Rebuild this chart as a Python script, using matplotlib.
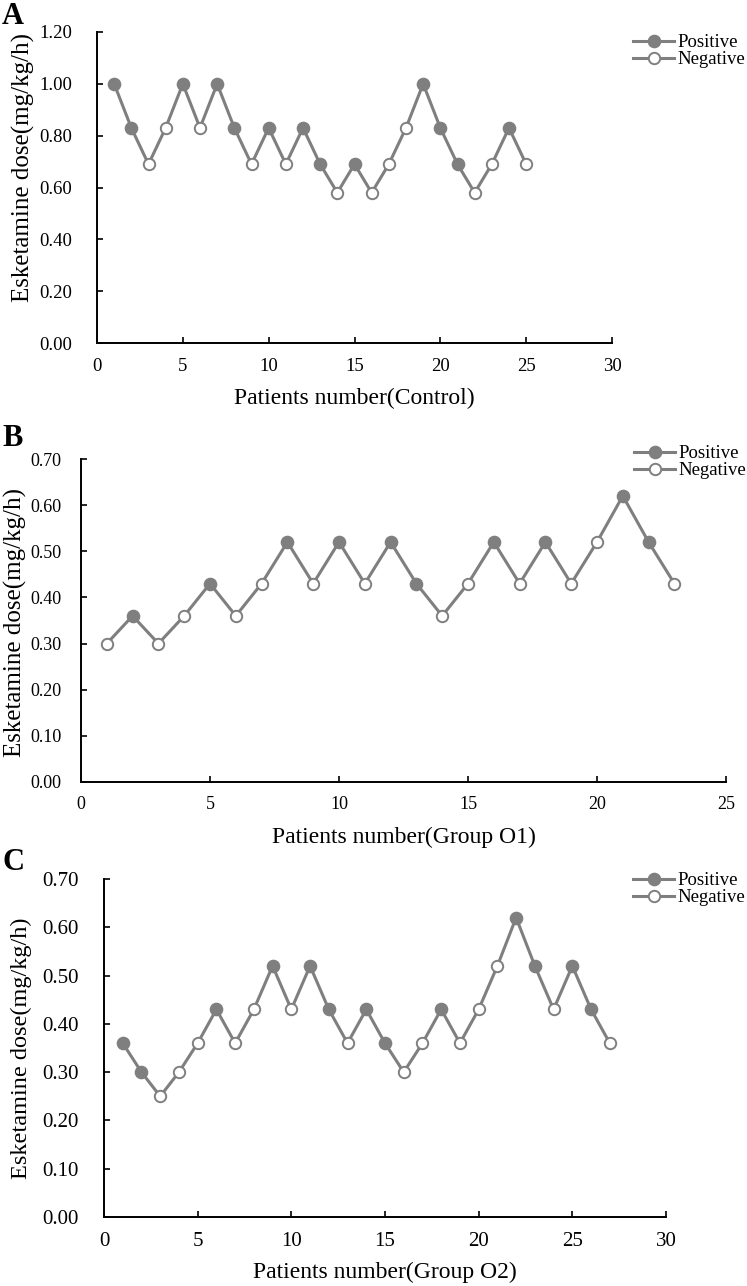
import matplotlib
matplotlib.use('Agg')
import matplotlib.pyplot as plt
from matplotlib.lines import Line2D
import numpy as np

plt.rcParams['font.family'] = ['Liberation Serif', 'DejaVu Serif']

# ------------------------------------------------------------
# Data: esketamine dose per patient, response 1 = positive, 0 = negative
# ------------------------------------------------------------
control_dose = [1.00, 0.83, 0.69, 0.83, 1.00, 0.83, 1.00, 0.83, 0.69, 0.83,
                0.69, 0.83, 0.69, 0.58, 0.69, 0.58, 0.69, 0.83, 1.00, 0.83,
                0.69, 0.58, 0.69, 0.83, 0.69]
control_resp = [1, 1, 0, 0, 1, 0, 1, 1, 0, 1,
                0, 1, 1, 0, 1, 0, 0, 0, 1, 1,
                1, 0, 0, 1, 0]

o1_dose = [0.30, 0.36, 0.30, 0.36, 0.43, 0.36, 0.43, 0.52, 0.43, 0.52,
           0.43, 0.52, 0.43, 0.36, 0.43, 0.52, 0.43, 0.52, 0.43, 0.52,
           0.62, 0.52, 0.43]
o1_resp = [0, 1, 0, 0, 1, 0, 0, 1, 0, 1,
           0, 1, 1, 0, 0, 1, 0, 1, 0, 0,
           1, 1, 0]

o2_dose = [0.36, 0.30, 0.25, 0.30, 0.36, 0.43, 0.36, 0.43, 0.52, 0.43,
           0.52, 0.43, 0.36, 0.43, 0.36, 0.30, 0.36, 0.43, 0.36, 0.43,
           0.52, 0.62, 0.52, 0.43, 0.52, 0.43, 0.36]
o2_resp = [1, 1, 0, 0, 0, 1, 0, 0, 1, 0,
           1, 1, 0, 1, 1, 0, 0, 1, 0, 0,
           0, 1, 1, 0, 1, 1, 0]

x_labels = ['Patients number(Control)', 'Patients number(Group O1)', 'Patients number(Group O2)']
y_label = 'Esketamine dose(mg/kg/h)'
legend_labels = ['Positive', 'Negative']

GRAY = '#7f7f7f'
W, H = 747, 1286
MS_FILL, MS_OPEN, LW = 8.8, 8.2, 2.2

fig = plt.figure(figsize=(W / 100, H / 100), dpi=100)


def px_rect(left, top, right, bottom):
    return [left / W, 1 - bottom / H, (right - left) / W, (bottom - top) / H]


def draw_panel(rect, dose, resp, xmax, ymax, ystep, xlabel, letter, letter_y,
               legend_xy, tick_fs, ypad, xpad, ylab_x, ylab_y, ylab_fs, xlab_y):
    left, top, right, bottom = rect
    ax = fig.add_axes(px_rect(left, top, right, bottom))
    dose = np.array(dose)
    resp = np.array(resp)
    x = np.arange(1, len(dose) + 1)

    ax.plot(x, dose, color=GRAY, linewidth=LW, zorder=2)
    pos = resp == 1
    ax.plot(x[pos], dose[pos], 'o', linestyle='none', ms=MS_FILL, mfc=GRAY, mec=GRAY, zorder=3)
    ax.plot(x[~pos], dose[~pos], 'o', linestyle='none', ms=MS_OPEN, mfc='white',
            mec=GRAY, mew=1.4, zorder=3)

    ax.set_xlim(0, xmax)
    ax.set_ylim(0, ymax)
    ax.set_xticks(np.arange(0, xmax + 1, 5))
    ax.set_yticks(np.arange(0, ymax + ystep / 2, ystep))
    ax.yaxis.set_major_formatter(matplotlib.ticker.FormatStrFormatter('%.2f'))

    for s in ['top', 'right']:
        ax.spines[s].set_visible(False)
    for s in ['left', 'bottom']:
        ax.spines[s].set_linewidth(1.4)
    ax.tick_params(axis='both', direction='in', length=4, width=1.2, labelsize=tick_fs)
    ax.tick_params(axis='y', pad=ypad)
    ax.tick_params(axis='x', pad=xpad)

    ax.set_xlabel(xlabel, fontsize=17)
    ax.xaxis.label.set_va('center')
    ax.xaxis.set_label_coords(0.5, -(xlab_y - bottom) / (bottom - top))
    ax.set_ylabel(y_label, fontsize=ylab_fs)
    ax.yaxis.label.set_va('center')
    ax.yaxis.set_label_coords((ylab_x - left) / (right - left),
                              (bottom - ylab_y) / (bottom - top))

    fig.text(2 / W, 1 - letter_y / H, letter, fontsize=22, fontweight='bold',
             ha='left', va='center')

    handles = [
        Line2D([], [], color=GRAY, lw=LW, marker='o', ms=MS_FILL, mfc=GRAY, mec=GRAY),
        Line2D([], [], color=GRAY, lw=LW, marker='o', ms=MS_OPEN, mfc='white', mec=GRAY, mew=1.4),
    ]
    fig.legend(handles, legend_labels, loc='upper left',
               bbox_to_anchor=(legend_xy[0] / W, 1 - legend_xy[1] / H),
               frameon=False, fontsize=13.5, borderpad=0, borderaxespad=0,
               handlelength=2.2, handletextpad=0.15, labelspacing=0.0)
    return ax


draw_panel((97, 32, 612, 343), control_dose, control_resp, 30, 1.2, 0.2,
           x_labels[0], 'A', 17, (633, 34), 13.5, 18, 11, 23, 168, 18, 398)
draw_panel((81, 459, 726, 782), o1_dose, o1_resp, 25, 0.7, 0.1,
           x_labels[1], 'B', 438, (634, 445), 13, 14, 10, 15, 622, 18, 837)
draw_panel((104, 879, 666, 1217), o2_dose, o2_resp, 30, 0.7, 0.1,
           x_labels[2], 'C', 862, (633, 872), 15, 18, 11, 21, 1048, 17.5, 1272)

plt.savefig('out.png', dpi=100)
plt.close()
